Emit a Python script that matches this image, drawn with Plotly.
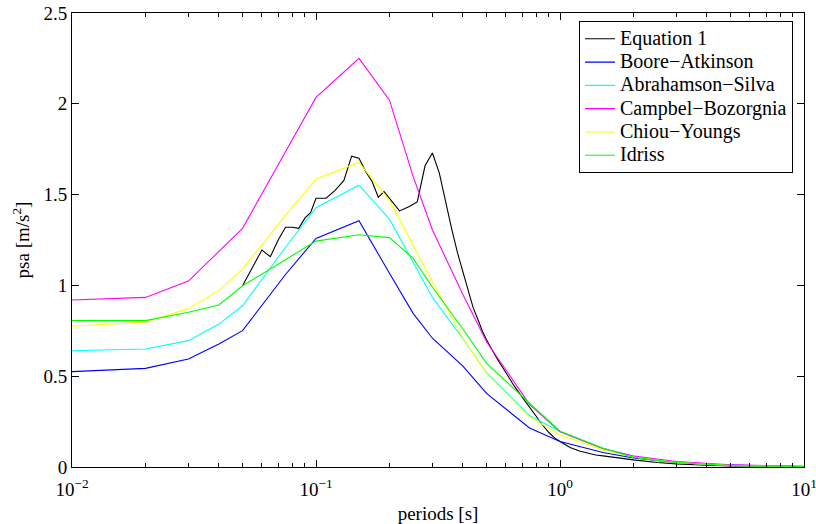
import plotly.graph_objects as go

periods_models = [0.01, 0.02, 0.03, 0.04, 0.05, 0.075, 0.1, 0.15, 0.2, 0.25, 0.3, 0.4, 0.5,
                  0.75, 1.0, 1.5, 2.0, 3.0, 4.0, 5.0, 7.5, 10.0]
boore_atkinson = [0.525, 0.543, 0.595, 0.677, 0.751, 1.06, 1.259, 1.356, 1.067, 0.846, 0.709, 0.555, 0.405,
                  0.215, 0.14, 0.08, 0.05, 0.025, 0.015, 0.01, 0.005, 0.003]
abrahamson_silva = [0.640, 0.650, 0.696, 0.787, 0.888, 1.21, 1.428, 1.552, 1.365, 1.127, 0.934, 0.706, 0.519,
                    0.283, 0.196, 0.103, 0.061, 0.026, 0.014, 0.009, 0.004, 0.002]
campbel_bozorgnia = [0.92, 0.934, 1.024, 1.19, 1.314, 1.736, 2.035, 2.25, 2.02, 1.60, 1.305, 0.95, 0.69,
                     0.345, 0.194, 0.10, 0.06, 0.03, 0.018, 0.012, 0.006, 0.004]
chiou_youngs = [0.775, 0.798, 0.872, 0.971, 1.09, 1.386, 1.586, 1.677, 1.468, 1.22, 1.02, 0.71, 0.516,
                0.277, 0.178, 0.094, 0.055, 0.024, 0.013, 0.008, 0.004, 0.002]
idriss = [0.806, 0.806, 0.852, 0.892, 0.998, 1.143, 1.244, 1.279, 1.263, 1.149, 0.99, 0.76, 0.571,
          0.351, 0.197, 0.103, 0.053, 0.024, 0.013, 0.008, 0.004, 0.002]

periods_eq1 = [0.05, 0.055, 0.06, 0.065, 0.07, 0.075, 0.08, 0.085, 0.09, 0.095, 0.1,
               0.11, 0.12, 0.13, 0.14, 0.15, 0.16, 0.17, 0.18, 0.19, 0.2,
               0.22, 0.24, 0.26, 0.28, 0.30, 0.32, 0.34, 0.36, 0.38, 0.40, 0.42, 0.44, 0.46, 0.48, 0.50,
               0.55, 0.6, 0.65, 0.7, 0.75, 0.8, 0.85, 0.9, 0.95, 1.0, 1.1, 1.2, 1.3, 1.4, 1.5, 1.6, 1.8, 2.0,
               2.5, 3.0, 4.0, 5.0, 7.5, 10.0]
equation_1 = [0.998, 1.103, 1.195, 1.158, 1.25, 1.32, 1.32, 1.314, 1.37, 1.40, 1.48,
              1.48, 1.525, 1.577, 1.712, 1.70, 1.626, 1.571, 1.485, 1.516, 1.48,
              1.41, 1.433, 1.46, 1.66, 1.729, 1.62, 1.452, 1.31, 1.18, 1.07, 0.975, 0.88, 0.815, 0.75, 0.70,
              0.60, 0.52, 0.445, 0.385, 0.33, 0.275, 0.23, 0.19, 0.16, 0.14, 0.108, 0.088, 0.075, 0.066, 0.061, 0.057, 0.048, 0.039,
              0.025, 0.017, 0.01, 0.006, 0.003, 0.002]

x_tickvals = [0.01, 0.1, 1, 10]
x_ticktext = ["10<sup>\u22122</sup>", "10<sup>\u22121</sup>", "10<sup>0</sup>", "10<sup>1</sup>"]
minor_vals = [m * d for d in (0.01, 0.1, 1) for m in range(2, 10)]
y_tickvals = [0, 0.5, 1, 1.5, 2, 2.5]
y_ticktext = ["0", "0.5", "1", "1.5", "2", "2.5"]

FONT = "Liberation Serif, Times New Roman, serif"

series = [
    ("Equation 1", periods_eq1, equation_1, "#000000"),
    ("Boore\u2212Atkinson", periods_models, boore_atkinson, "#0000ff"),
    ("Abrahamson\u2212Silva", periods_models, abrahamson_silva, "#00ffff"),
    ("Campbel\u2212Bozorgnia", periods_models, campbel_bozorgnia, "#ff00ff"),
    ("Chiou\u2212Youngs", periods_models, chiou_youngs, "#ffff00"),
    ("Idriss", periods_models, idriss, "#00ff00"),
]

fig = go.Figure()
for name, xs, ys, col in series:
    fig.add_trace(go.Scatter(x=xs, y=ys, mode="lines",
                             name='<span style="font-size:20px">' + name + '</span>',
                             line=dict(color=col, width=1.1)))

fig.update_layout(
    width=816, height=524,
    margin=dict(l=72, r=12, t=13, b=57),
    paper_bgcolor="white", plot_bgcolor="white",
    font=dict(family=FONT, size=18, color="black"),
    legend=dict(x=0.985, xanchor="right", y=0.982, yanchor="top",
                bgcolor="white", bordercolor="black", borderwidth=1,
                font=dict(family=FONT, size=15.6, color="black"),
                tracegroupgap=0),
    xaxis=dict(type="log", range=[-2, 1], tickvals=x_tickvals, ticktext=x_ticktext,
               automargin=False, ticklabeloverflow="allow", ticklabelstandoff=5,
               showgrid=False, zeroline=False, showline=True, linecolor="black", linewidth=1,
               mirror="ticks", ticks="inside", ticklen=7, tickcolor="black",
               minor=dict(tickvals=minor_vals, ticks="inside", ticklen=4, tickcolor="black", showgrid=False),
               title=dict(text="periods [s]", font=dict(family=FONT, size=19), standoff=8),
               tickfont=dict(family=FONT, size=19)),
    yaxis=dict(range=[0, 2.5], tickvals=y_tickvals, ticktext=y_ticktext,
               automargin=False, ticklabeloverflow="allow",
               showgrid=False, zeroline=False, showline=True, linecolor="black", linewidth=1,
               mirror="ticks", ticks="inside", ticklen=7, tickcolor="black",
               title=dict(text="psa [m/s<sup>2</sup>]", font=dict(family=FONT, size=19), standoff=8),
               tickfont=dict(family=FONT, size=19)),
)

fig.write_html("out.html")
